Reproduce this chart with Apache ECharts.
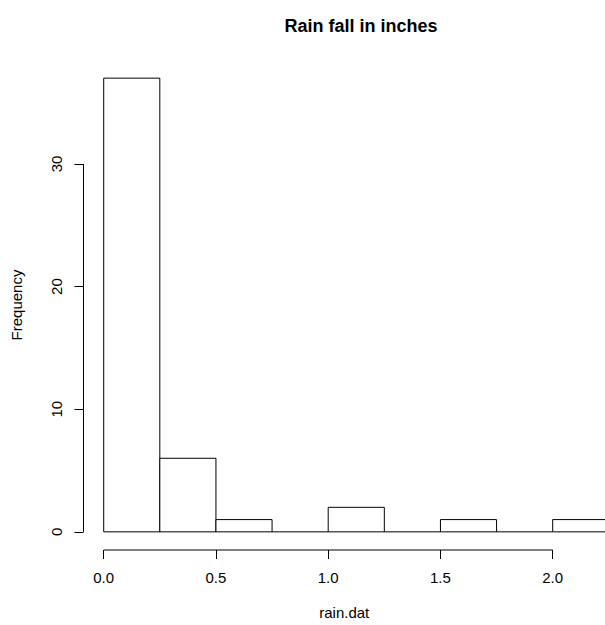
<!DOCTYPE html>
<html>
<head>
<meta charset="utf-8">
<script src="https://cdn.jsdelivr.net/npm/echarts@6/dist/echarts.min.js"></script>
<style>html,body{margin:0;padding:0;background:#fff}#c{width:605px;height:625px}</style>
</head>
<body>
<div id="c"></div>
<script>
// Histogram bins (inches) and counts
var binStarts = [0, 0.25, 0.5, 0.75, 1.0, 1.25, 1.5, 1.75, 2.0];
var binWidth = 0.25;
var counts = [37, 6, 1, 0, 2, 0, 1, 0, 1];
var xTicks = [0, 0.5, 1, 1.5, 2];
var xTickLabels = ['0.0', '0.5', '1.0', '1.5', '2.0'];
var yTicks = [0, 10, 20, 30];
var titleText = 'Rain fall in inches';
var xName = 'rain.dat';
var yName = 'Frequency';

var FONT = 'Liberation Sans, Arial, Helvetica, sans-serif';
var xMin = -0.09, xMax = 2.233, yMin = -1.48, yMax = 38.48;

var barData = binStarts.map(function (s, i) { return [s, s + binWidth, counts[i]]; });

var chart = echarts.init(document.getElementById('c'), null, { renderer: 'svg' });
chart.setOption({
  animation: false,
  backgroundColor: '#fff',
  title: {
    text: titleText, left: 356, top: 12, textAlign: 'center',
    textStyle: { fontFamily: FONT, fontSize: 18, fontWeight: 'bold', color: '#000' }
  },
  grid: { left: 83.5, right: 0, top: 60, bottom: 75 },
  xAxis: {
    type: 'value', min: xMin, max: xMax,
    name: xName, nameLocation: 'middle', nameGap: 55,
    nameTextStyle: { fontFamily: FONT, fontSize: 15, color: '#000' },
    axisLine: { show: false, onZero: false },
    splitLine: { show: false },
    axisTick: { show: true, inside: false, customValues: xTicks, length: 9, lineStyle: { color: '#000' } },
    axisLabel: {
      customValues: xTicks, margin: 20, fontFamily: FONT, fontSize: 15, color: '#000',
      formatter: function (v) { var i = xTicks.indexOf(v); return i >= 0 ? xTickLabels[i] : ''; }
    }
  },
  yAxis: {
    type: 'value', min: yMin, max: yMax,
    name: yName, nameLocation: 'middle', nameGap: 60, nameRotate: 90,
    nameTextStyle: { fontFamily: FONT, fontSize: 15, color: '#000' },
    axisLine: { show: false, onZero: false },
    splitLine: { show: false },
    axisTick: { show: true, inside: false, customValues: yTicks, length: 9, lineStyle: { color: '#000' } },
    axisLabel: {
      customValues: yTicks, rotate: 90, margin: 20, fontFamily: FONT, fontSize: 15, color: '#000'
    }
  },
  series: [
    {
      type: 'custom',
      clip: true,
      data: barData,
      renderItem: function (params, api) {
        var p0 = api.coord([api.value(0), api.value(2)]);
        var p1 = api.coord([api.value(1), 0]);
        if (api.value(2) === 0) {
          return {
            type: 'line',
            shape: { x1: p0[0], y1: p1[1], x2: p1[0], y2: p1[1] },
            style: { stroke: '#000', lineWidth: 1 }
          };
        }
        return {
          type: 'rect',
          shape: { x: p0[0], y: p0[1], width: p1[0] - p0[0], height: p1[1] - p0[1] },
          style: { fill: '#fff', stroke: '#000', lineWidth: 1 }
        };
      }
    },
    {
      type: 'custom',
      clip: false,
      data: [
        [xTicks[0], yMin, xTicks[xTicks.length - 1], yMin],
        [xMin, yTicks[0], xMin, yTicks[yTicks.length - 1]]
      ],
      renderItem: function (params, api) {
        var a = api.coord([api.value(0), api.value(1)]);
        var b = api.coord([api.value(2), api.value(3)]);
        return {
          type: 'line',
          shape: { x1: a[0], y1: a[1], x2: b[0], y2: b[1] },
          style: { stroke: '#000', lineWidth: 1 }
        };
      }
    }
  ]
});
</script>
</body>
</html>
